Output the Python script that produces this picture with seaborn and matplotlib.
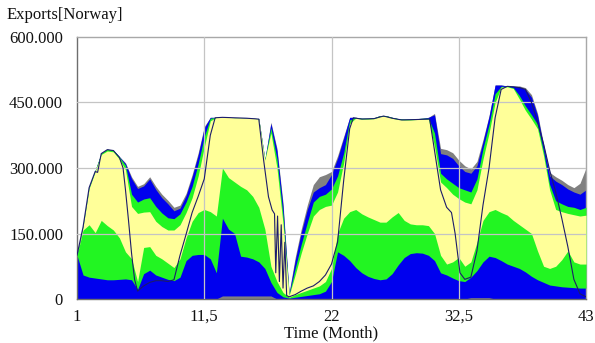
import numpy as np
import pandas as pd
import matplotlib
matplotlib.use("Agg")
import matplotlib.pyplot as plt
import seaborn as sns

# ---------------- data (values in thousands) ----------------
months = [1, 1.5, 2, 2.5, 3, 3.5, 4, 4.5, 5, 5.5,
          6, 6.5, 7, 7.5, 8, 8.5, 9, 9.5, 10, 10.5,
          11, 11.5, 12, 12.5, 13, 13.5, 14, 14.5, 15, 15.5,
          16, 16.5, 17, 17.5, 18, 18.5, 19, 19.5, 20, 20.5,
          21, 21.5, 22, 22.5, 23, 23.5, 24, 24.5, 25, 25.5,
          26, 26.5, 27, 27.5, 28, 28.5, 29, 29.5, 30, 30.5,
          31, 31.5, 32, 32.5, 33, 33.5, 34, 34.5, 35, 35.5,
          36, 36.5, 37, 37.5, 38, 38.5, 39, 39.5, 40, 40.5,
          41, 41.5, 42, 42.5, 43]

gray_hi = [100, 168, 256, 295, 334, 343, 341, 326, 312, 280,
           258, 264, 280, 258, 240, 226, 210, 215, 242, 285,
           335, 395, 416, 416, 416, 416, 415, 415, 414, 414,
           413, 320, 405, 345, 220, 15, 95, 160, 215, 262,
           280, 285, 292, 328, 372, 416, 416, 414, 414, 415,
           420, 420, 416, 413, 412, 412, 413, 414, 416, 425,
           345, 342, 335, 318, 305, 298, 315, 365, 420, 490,
           490, 488, 488, 488, 484, 468, 425, 355, 290, 280,
           272, 262, 255, 265, 300]

blue_hi = [100, 168, 256, 295, 334, 343, 341, 326, 310, 276,
           253, 259, 275, 251, 232, 218, 202, 208, 237, 280,
           330, 392, 416, 416, 416, 416, 415, 415, 414, 414,
           413, 320, 402, 340, 212, 12, 88, 152, 205, 245,
           255, 262, 285, 322, 368, 416, 416, 414, 414, 415,
           420, 420, 416, 413, 412, 412, 413, 414, 416, 422,
           333, 330, 322, 305, 292, 288, 305, 360, 418, 490,
           490, 488, 487, 486, 480, 462, 420, 350, 282, 270,
           262, 252, 245, 240, 250]

green_hi = [100, 168, 256, 295, 334, 343, 341, 325, 306, 240,
            222, 229, 232, 212, 197, 186, 184, 195, 222, 258,
            310, 372, 414, 416, 416, 416, 415, 415, 414, 414,
            413, 320, 392, 320, 192, 10, 70, 125, 175, 222,
            235, 240, 252, 282, 334, 410, 416, 414, 414, 415,
            420, 420, 416, 413, 412, 412, 413, 414, 414, 380,
            288, 275, 265, 255, 250, 245, 275, 345, 400, 470,
            487, 487, 484, 466, 442, 422, 400, 338, 262, 225,
            218, 212, 210, 205, 210]

yellow_hi = [100, 165, 253, 292, 331, 339, 337, 320, 296, 212,
             196, 199, 200, 178, 166, 158, 158, 170, 198, 232,
             282, 348, 408, 416, 416, 416, 415, 415, 414, 414,
             412, 318, 380, 300, 172, 8, 55, 105, 150, 190,
             205, 212, 215, 245, 311, 402, 414, 412, 412, 413,
             418, 418, 414, 411, 410, 410, 411, 412, 412, 350,
             268, 255, 240, 230, 222, 218, 250, 320, 380, 450,
             485, 486, 482, 458, 432, 412, 390, 328, 250, 205,
             200, 196, 193, 190, 192]

yellow_lo = [100, 158, 170, 152, 180, 168, 158, 140, 108, 92,
             40, 118, 120, 100, 92, 82, 72, 92, 140, 178,
             198, 205, 200, 190, 300, 278, 268, 258, 250, 235,
             210, 160, 75, 40, 15, 4, 10, 15, 20, 25,
             30, 40, 70, 150, 185, 200, 205, 195, 188, 182,
             176, 176, 188, 198, 180, 172, 170, 170, 168, 150,
             100, 80, 85, 95, 75, 85, 130, 180, 200, 205,
             198, 192, 180, 170, 160, 150, 110, 75, 70, 75,
             90, 110, 85, 80, 80]

green_lo = [100, 55, 50, 48, 46, 44, 44, 45, 46, 44,
            22, 58, 66, 55, 50, 45, 42, 50, 88, 100,
            102, 102, 92, 60, 185, 160, 150, 98, 96, 92,
            85, 70, 38, 15, 5, 2, 4, 6, 8, 10,
            12, 18, 40, 108, 100, 88, 72, 60, 52, 47,
            44, 46, 58, 78, 95, 104, 106, 105, 100, 88,
            60, 55, 48, 42, 40, 50, 65, 85, 98, 95,
            88, 80, 75, 70, 62, 52, 44, 38, 32, 30,
            28, 27, 26, 25, 25]

blue_lo = [0, 0, 0, 0, 0, 0, 0, 0, 0, 0,
           0, 0, 0, 0, 0, 0, 0, 0, 0, 0,
           0, 0, 0, 0, 7, 7, 7, 7, 7, 7,
           7, 7, 7, 0, 0, 0, 0, 0, 0, 0,
           0, 0, 0, 0, 0, 0, 0, 0, 0, 0,
           0, 0, 0, 0, 0, 0, 0, 0, 0, 0,
           0, 0, 0, 0, 0, 3, 3, 3, 3, 0,
           0, 0, 0, 0, 0, 0, 0, 0, 0, 0,
           0, 0, 0, 0, 0]

base_months = [1, 1.5, 2, 2.5, 2.7, 3, 3.5, 4, 4.5, 4.8, 5, 5.25, 5.5, 5.75, 6,
               6.5, 7, 7.5, 8, 8.5, 9, 9.5, 10, 10.5, 11, 11.5, 12, 12.4,
               13, 14, 15, 16.0, 16.4, 16.8, 17.1, 17.3, 17.4, 17.55, 17.7,
               17.85, 18.0, 18.15, 18.3, 18.5, 19, 19.5, 20, 20.5, 21, 21.5, 22,
               22.5, 23, 23.5, 23.8, 24.5, 25.5, 26.3, 27, 27.8, 29, 30.1,
               30.5, 31, 31.5, 31.9, 32.2, 32.6, 33, 33.5, 34, 34.5, 35,
               35.5, 36, 36.5, 37, 37.5, 38, 38.5, 39, 39.5, 40, 40.5, 41,
               41.5, 42, 42.5, 43]
base_values = [100, 165, 255, 292, 290, 333, 342, 340, 324, 300, 250, 180, 105, 45, 18,
               30, 38, 42, 42, 40, 44, 100, 148, 198, 235, 275, 375, 415,
               416, 415, 414, 412, 318, 234, 204, 195, 60, 190, 40,
               170, 25, 130, 8, 5, 10, 18, 25, 30, 40, 55, 80,
               130, 270, 390, 415, 412, 413, 419, 414, 410, 411, 412,
               340, 250, 210, 198, 150, 60, 45, 50, 110, 215, 300,
               415, 480, 487, 486, 484, 480, 450, 405, 355, 295, 245, 185,
               120, 45, 12, 5]

x_ticks = [1, 11.5, 22, 32.5, 43]
x_tick_labels = ["1", "11,5", "22", "32,5", "43"]
y_ticks = [0, 150, 300, 450, 600]
y_tick_labels = ["0", "150.000", "300.000", "450.000", "600.000"]

# ---------------- figure ----------------
sns.set_theme(style="white")
plt.rcParams['font.family'] = ['Liberation Serif', 'DejaVu Serif']

W, H = 595, 343
fig = plt.figure(figsize=(W / 100, H / 100), dpi=100)
fig.patch.set_facecolor("white")
ax = fig.add_axes([77 / W, 1 - 299 / H, (586 - 77) / W, (299 - 37) / H])
ax.set_facecolor("white")

ax.fill_between(months, 0, gray_hi, color="#808080", lw=0, zorder=1)
ax.fill_between(months, blue_lo, blue_hi, color="#0000EE", lw=0, zorder=2)
ax.fill_between(months, green_lo, green_hi, color="#22F522", lw=0, zorder=3)
ax.fill_between(months, yellow_lo, yellow_hi, color="#FFFF99", lw=0, zorder=4)

for gx in [11.5, 22, 32.5]:
    ax.axvline(gx, color="#C4C4C4", lw=0.9, zorder=5)
for gy in [150, 300, 450]:
    ax.axhline(gy, color="#C4C4C4", lw=0.9, zorder=5)

base_df = pd.DataFrame({"Month": base_months, "Exports": base_values})
sns.lineplot(data=base_df, x="Month", y="Exports", color="#1C1C6A", lw=0.8,
             ax=ax, zorder=6, sort=False)

ax.set_xlim(1, 43)
ax.set_ylim(0, 600)
ax.set_xticks(x_ticks)
ax.set_xticklabels(x_tick_labels)
ax.set_yticks(y_ticks)
ax.set_yticklabels(y_tick_labels)
ax.set_xlabel("")
ax.set_ylabel("")
ax.tick_params(axis="both", length=0, labelsize=12, colors="#111111")
ax.tick_params(axis="y", pad=10)
ax.tick_params(axis="x", pad=7)

for side in ["left", "bottom"]:
    ax.spines[side].set_color("#6E6E6E")
    ax.spines[side].set_linewidth(1.0)
for side in ["top", "right"]:
    ax.spines[side].set_color("#A8A8A8")
    ax.spines[side].set_linewidth(1.0)

fig.text(7 / W, 1 - 15 / H, "Exports[Norway]", fontsize=12, ha="left", va="center",
         color="#111111")
fig.text(331 / W, 1 - 333 / H, "Time (Month)", fontsize=12, ha="center", va="center",
         color="#111111")

fig.savefig("out.png", dpi=100, facecolor="white")
